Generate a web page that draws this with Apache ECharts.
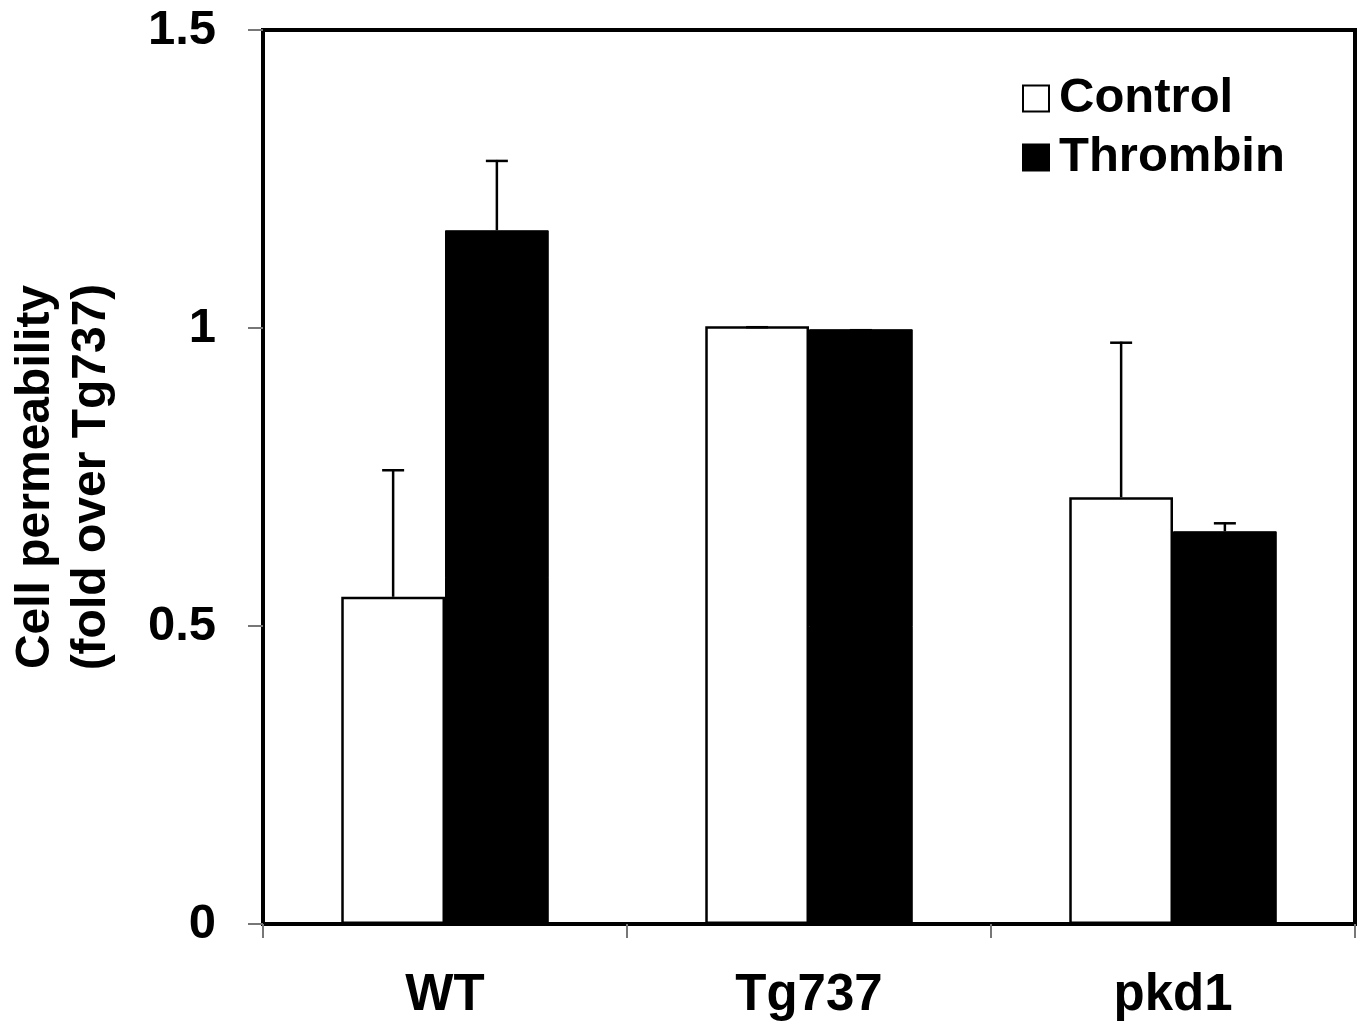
<!DOCTYPE html>
<html>
<head>
<meta charset="utf-8">
<script src="https://cdn.jsdelivr.net/npm/echarts@6/dist/echarts.min.js"></script>
<style>
  html, body { margin: 0; padding: 0; background: #fff; }
  #main { width: 1363px; height: 1025px; }
</style>
</head>
<body>
<div id="main"></div>
<script>
// data
var categories = ['WT', 'Tg737', 'pkd1'];
var controlMean = [0.549, 1.003, 0.716];
var controlErr = [0.214, 0.0, 0.261];
var thrombinMean = [1.164, 0.998, 0.659];
var thrombinErr = [0.118, 0.0, 0.015];
var yTicks = [0, 0.5, 1, 1.5];

var FONT = 'Liberation Sans, Arial, sans-serif';
var CAT_GAP = 0.43;

var chart = echarts.init(document.getElementById('main'));

// error bar data: [catIndex, mean, err, side] side -1 = control, 1 = thrombin
var errData = [];
for (var i = 0; i < categories.length; i++) {
  errData.push([i, controlMean[i], controlErr[i], -1]);
  errData.push([i, thrombinMean[i], thrombinErr[i], 1]);
}

function renderErr(params, api) {
  var idx = api.value(0);
  var mean = api.value(1);
  var err = api.value(2);
  var side = api.value(3);
  var band = api.size([1, 0])[0];
  var barW = band * (1 - CAT_GAP) / 2;
  var base = api.coord([idx, mean]);
  var top = api.coord([idx, mean + err]);
  var x = base[0] + side * barW / 2;
  var style = { stroke: '#000', lineWidth: 2.5 };
  return {
    type: 'group',
    children: [
      { type: 'line', shape: { x1: x, y1: base[1], x2: x, y2: top[1] }, style: style },
      { type: 'line', shape: { x1: x - 11, y1: top[1] + 1, x2: x + 11, y2: top[1] + 1 }, style: style }
    ]
  };
}

var option = {
  backgroundColor: '#fff',
  animation: false,
  grid: {
    left: 263, right: 8, top: 30, bottom: 101,
    show: true, borderColor: '#000', borderWidth: 4, backgroundColor: 'transparent'
  },
  legend: {
    orient: 'vertical',
    left: 1022, top: 74, padding: 0,
    itemWidth: 26, itemHeight: 26, itemGap: 10,
    icon: 'rect',
    textStyle: { fontFamily: FONT, fontSize: 49, fontWeight: 'bold', color: '#000', lineHeight: 49, padding: [0, 0, 0, 5] },
    data: ['Control', 'Thrombin']
  },
  xAxis: {
    type: 'category',
    data: categories,
    axisLine: { lineStyle: { color: '#000', width: 4 } },
    axisTick: { show: true, length: 14, lineStyle: { color: '#777', width: 2 } },
    axisLabel: { margin: 46, fontFamily: FONT, fontSize: 51, fontWeight: 'bold', color: '#000' }
  },
  yAxis: {
    type: 'value',
    min: yTicks[0], max: yTicks[yTicks.length - 1], interval: 0.5,
    splitLine: { show: false },
    axisLine: { show: true, lineStyle: { color: '#000', width: 4 } },
    axisTick: { show: true, length: 15, lineStyle: { color: '#777', width: 2 } },
    axisLabel: { margin: 47, fontFamily: FONT, fontSize: 49, fontWeight: 'bold', color: '#000' },
    name: 'Cell permeability\n(fold over Tg737)',
    nameLocation: 'middle',
    nameRotate: 90,
    nameGap: 143,
    nameTextStyle: { fontFamily: FONT, fontSize: 48, fontWeight: 'bold', color: '#000', lineHeight: 56 }
  },
  series: [
    {
      name: 'Control', type: 'bar', data: controlMean,
      barGap: '0%', barCategoryGap: (CAT_GAP * 100) + '%',
      itemStyle: { color: '#fff', borderColor: '#000', borderWidth: 2.5 }
    },
    {
      name: 'Thrombin', type: 'bar', data: thrombinMean,
      barGap: '0%', barCategoryGap: (CAT_GAP * 100) + '%',
      itemStyle: { color: '#000', borderColor: '#000', borderWidth: 1 }
    },
    {
      type: 'custom', renderItem: renderErr, data: errData, z: 5,
      silent: true
    }
  ]
};
chart.setOption(option);
</script>
</body>
</html>
